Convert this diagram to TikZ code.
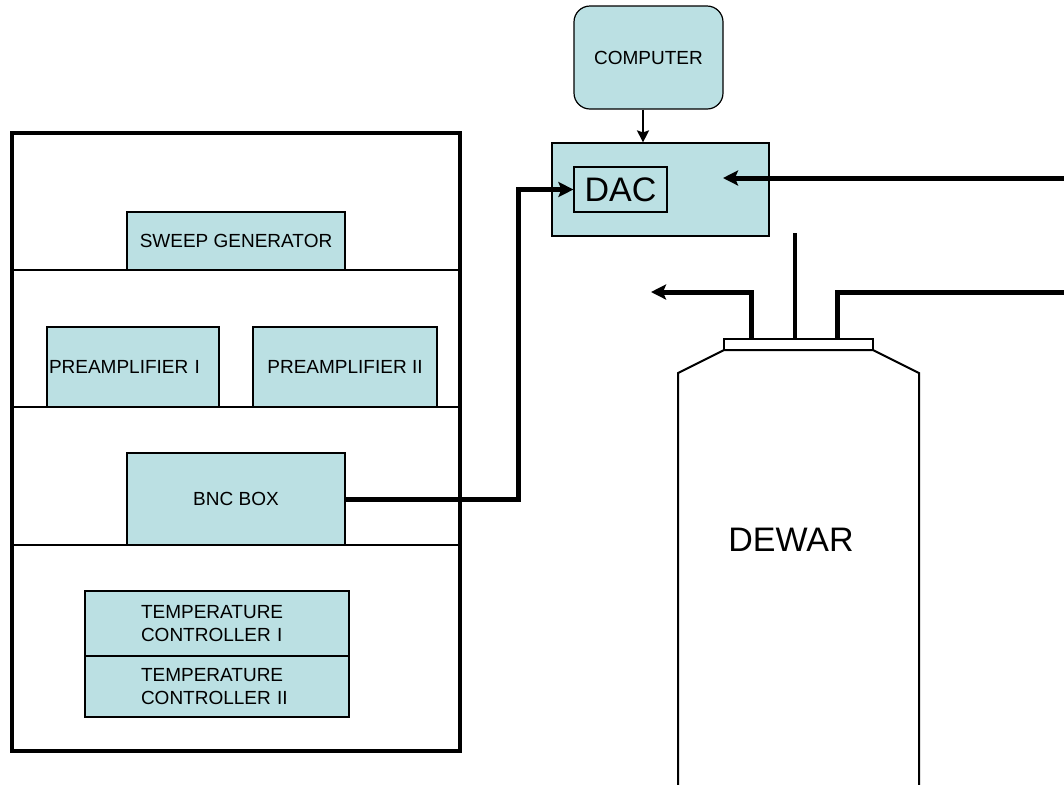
\documentclass[tikz,border=0pt]{standalone}
\usepackage{fontspec}
\setmainfont{Liberation Sans}
\usetikzlibrary{arrows.meta}
\definecolor{unitfill}{RGB}{187,224,227}

\begin{document}
\begin{tikzpicture}[x=0.5pt,y=-0.5pt,
	unit/.style={rectangle, draw=black, fill=unitfill, line width=0.6pt, inner sep=1pt, font=\fontsize{9.5}{11.3}\selectfont},
	shelf/.style={line width=1pt},
	cable/.style={line width=2.5pt},
	bigtip/.style={-{Stealth[length=7.5pt,width=7.5pt,inset=1.5pt]}}]
	\useasboundingbox (0,0) rectangle (1064,784);

	% rack with shelves
	\draw[line width=1.6pt]	(12,133) rectangle (460,751);
	\draw[shelf]	(12,270) -- (460,270);
	\draw[shelf]	(12,407) -- (460,407);
	\draw[shelf]	(12,545) -- (460,545);

	\node 	(sweep)		at	(236,241) 	[unit, minimum width=109pt, minimum height=29pt]{SWEEP GENERATOR};
	\node 	(preI)		at	(133,367) 	[unit, minimum width=86pt, minimum height=40pt, text width=84pt, align=left]{PREAMPLIFIER I};
	\node 	(preII)		at	(345,367) 	[unit, minimum width=92pt, minimum height=40pt]{PREAMPLIFIER II};
	\node 	(bnc)		at	(236,499) 	[unit, minimum width=109pt, minimum height=46pt]{BNC BOX};
	\node 	(tcI)		at	(217,623.5) 	[unit, minimum width=132pt, minimum height=32.5pt, text width=76pt, align=left]{TEMPERATURE\\CONTROLLER I};
	\node 	(tcII)		at	(217,686.5) 	[unit, minimum width=132pt, minimum height=30.5pt, text width=76pt, align=left]{TEMPERATURE\\CONTROLLER II};

	% computer and DAC
	\node 	(comp)		at	(648.5,57.5) 	[unit, rounded corners=8pt, minimum width=74.5pt, minimum height=51.5pt]{COMPUTER};
	\node 	(dac)		at	(660.5,189.5) 	[unit, minimum width=108.5pt, minimum height=46.5pt]{};
	\node 	(dacin)		at	(620.5,189.5) 	[unit, minimum width=46.5pt, minimum height=22.5pt, font=\fontsize{17}{20}\selectfont]{DAC};
	\draw[-{Stealth[length=6pt,width=6pt,inset=1pt]},line width=1pt]	(comp.south -| 643,0) -- (dac.north -| 643,0);

	% dewar
	\draw[line width=1pt]	(678,790) -- (678,373) -- (724,350) -- (873,350) -- (919,373) -- (919,790);
	\node 	(lid)		at	(798.5,344.5) 	[rectangle, draw=black, fill=white, line width=0.7pt, inner sep=0pt, minimum width=74.5pt, minimum height=5.5pt]{};
	\node 	(dewar)		at	(791,539.5) 	[font=\fontsize{17}{20}\selectfont]{DEWAR};

	\coordinate	(outL)	at	(651,292);
	\coordinate	(inR)	at	(1064,292);
	\coordinate	(sigR)	at	(1064,178);
	\coordinate	(sigtip)	at	(723,178);

	% cables
	\draw[cable,bigtip]	(bnc.east) -- (518,499) |- (dacin.west);
	\draw[cable,bigtip]	(sigR) -- (sigtip);
	\draw[cable,bigtip]	([xshift=14pt]lid.north west) |- (outL);
	\draw[line width=2pt]	([xshift=36pt]lid.north west) -- ++(0,-105);
	\draw[cable]	([xshift=57pt]lid.north west) |- (inR);

\end{tikzpicture}
\end{document}
